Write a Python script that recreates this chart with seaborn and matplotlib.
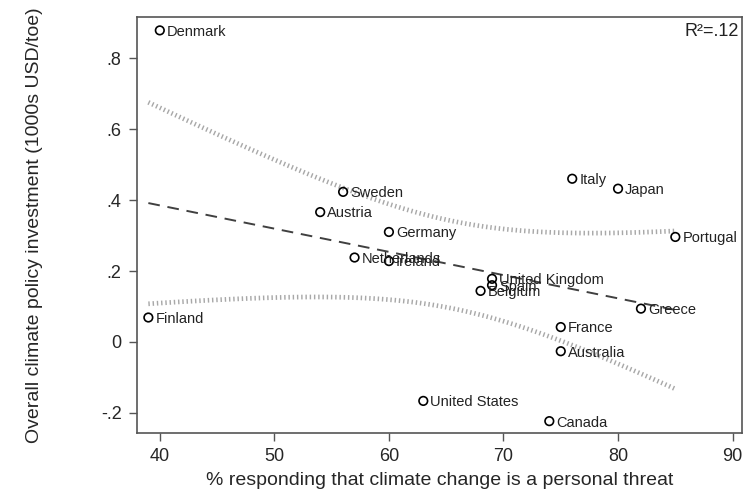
import numpy as np
import pandas as pd
import matplotlib.pyplot as plt
import seaborn as sns

# data
countries = ['Denmark', 'Sweden', 'Austria', 'Germany', 'Netherlands', 'Ireland',
             'United Kingdom', 'Spain', 'Belgium', 'Italy', 'Japan', 'Portugal',
             'Greece', 'France', 'Australia', 'Finland', 'United States', 'Canada']
threat = [40, 56, 54, 60, 57, 60, 69, 69, 68, 76, 80, 85, 82, 75, 75, 39, 63, 74]
investment = [0.878, 0.423, 0.366, 0.310, 0.238, 0.228, 0.178, 0.160, 0.144,
              0.460, 0.432, 0.296, 0.094, 0.042, -0.026, 0.069, -0.166, -0.223]

df = pd.DataFrame({'country': countries, 'threat': threat, 'investment': investment})

sns.set_style('ticks')
plt.rcParams['font.family'] = ['Liberation Sans', 'DejaVu Sans']

fig = plt.figure(figsize=(7.44, 4.93), dpi=100)
ax = fig.add_axes([0.184, 0.122, 0.813, 0.843])

# OLS fit and 95% CI of the mean prediction
x = df['threat'].values
y = df['investment'].values
n = len(x)
b1, b0 = np.polyfit(x, y, 1)
yhat = b0 + b1 * x
r2 = 1 - ((y - yhat) ** 2).sum() / ((y - y.mean()) ** 2).sum()
s = np.sqrt(((y - yhat) ** 2).sum() / (n - 2))
xs = np.linspace(x.min(), x.max(), 100)
se = s * np.sqrt(1 / n + (xs - x.mean()) ** 2 / ((x - x.mean()) ** 2).sum())
tcrit = 2.12
fit = b0 + b1 * xs

band = pd.DataFrame({'x': np.concatenate([xs, xs]),
                     'y': np.concatenate([fit + tcrit * se, fit - tcrit * se]),
                     'side': ['upper'] * len(xs) + ['lower'] * len(xs)})
for side, g in band.groupby('side'):
    ax.plot(g['x'], g['y'], color='#a8a8a8', lw=3.4, ls=(0, (0.3, 0.6)),
            solid_capstyle='butt', dash_capstyle='butt', zorder=1)

sns.lineplot(x=xs, y=fit, ax=ax, color='#404040', lw=1.4, ls=(0, (6, 4)), zorder=2)

sns.scatterplot(data=df, x='threat', y='investment', ax=ax, s=38,
                facecolor='none', edgecolor='black', linewidth=1.2, zorder=3)

for _, r in df.iterrows():
    ax.annotate(r['country'], (r['threat'], r['investment']), xytext=(5, -1),
                textcoords='offset points', va='center', ha='left', fontsize=10.5,
                color='#222222', zorder=4)

ax.text(0.996, 0.985, 'R²=' + f'{r2:.2f}'.lstrip('0'), transform=ax.transAxes,
        ha='right', va='top', fontsize=13, color='#222222')

ax.set_xlim(38.0, 90.8)
ax.set_ylim(-0.256, 0.915)
ax.set_xticks([40, 50, 60, 70, 80, 90])
ax.set_yticks([-0.2, 0, 0.2, 0.4, 0.6, 0.8])
ax.set_yticklabels(['-.2', '0', '.2', '.4', '.6', '.8'])
ax.tick_params(labelsize=13, length=6, width=1, color='#555555', pad=5)
ax.set_xlabel('% responding that climate change is a personal threat', fontsize=14, labelpad=5)
ax.set_ylabel('Overall climate policy investment (1000s USD/toe)', fontsize=14, labelpad=42)
for sp in ax.spines.values():
    sp.set_color('#555555')
    sp.set_linewidth(1.2)

fig.savefig('out.png', dpi=100)
